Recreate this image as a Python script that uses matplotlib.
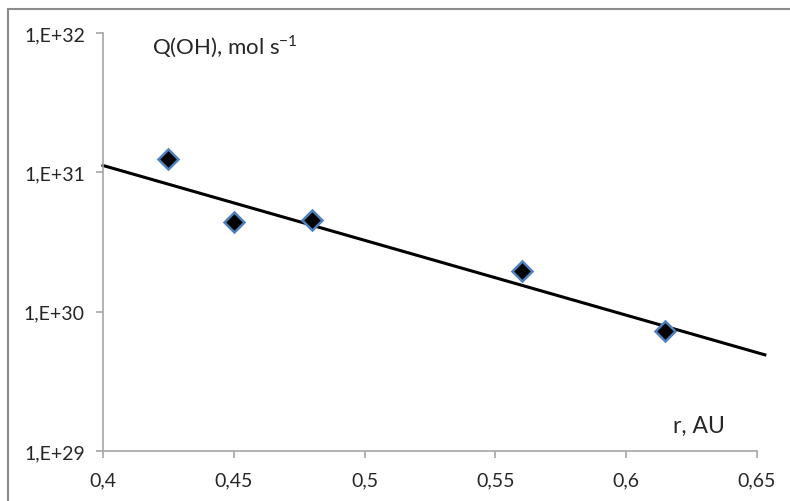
import numpy as np
import matplotlib
matplotlib.use('Agg')
import matplotlib.pyplot as plt
from matplotlib.ticker import FixedLocator, FuncFormatter, NullLocator
from matplotlib.lines import Line2D

# observed points
r_au = [0.425, 0.45, 0.48, 0.56, 0.615]
q_oh = [1.24e31, 4.43e30, 4.58e30, 1.97e30, 7.3e29]

# trend line end points
trend_r = [0.4, 0.653]
trend_q = [1.12e31, 4.9e29]

x_ticks = [0.4, 0.45, 0.5, 0.55, 0.6, 0.65]
y_ticks = [1e29, 1e30, 1e31, 1e32]

plt.rcParams['font.family'] = ['Lato', 'DejaVu Sans']

fig = plt.figure(figsize=(7.9, 5.02), dpi=100)
ax = fig.add_axes([103 / 790, 50 / 502, 654 / 790, 418 / 502])

ax.plot(trend_r, trend_q, color='black', linewidth=2.2, clip_on=False, zorder=2)
ax.plot(r_au, q_oh, linestyle='none', marker='D', markersize=10.5,
        markerfacecolor='black', markeredgecolor='#4f81bd', markeredgewidth=1.8, zorder=3)

ax.set_yscale('log')
ax.set_xlim(0.4, 0.65)
ax.set_ylim(1e29, 1e32)
ax.xaxis.set_major_locator(FixedLocator(x_ticks))
ax.yaxis.set_major_locator(FixedLocator(y_ticks))
ax.yaxis.set_minor_locator(NullLocator())
ax.xaxis.set_major_formatter(FuncFormatter(lambda v, p: ('%g' % v).replace('.', ',')))
ax.yaxis.set_major_formatter(FuncFormatter(lambda v, p: '1,E+%d' % round(np.log10(v))))

for s in ['top', 'right']:
    ax.spines[s].set_visible(False)
for s in ['left', 'bottom']:
    ax.spines[s].set_color('#a6a6a6')
    ax.spines[s].set_linewidth(1.2)
ax.tick_params(axis='both', direction='out', length=5, width=1.2, color='#a6a6a6',
               labelsize=14, labelcolor='#262626')
ax.tick_params(axis='y', pad=8)
ax.tick_params(axis='x', pad=10)

ax.text(152 / 790, 1 - 47 / 502, 'Q(OH), mol s$^{\\mathregular{-1}}$', transform=fig.transFigure,
        fontsize=16, color='#262626', ha='left', va='center')
ax.text(673 / 790, 1 - 426 / 502, 'r, AU', transform=fig.transFigure,
        fontsize=16.5, color='#262626', ha='left', va='center')

# outer chart frame (cropped on the right and bottom)
fig.add_artist(Line2D([8 / 790, 8 / 790], [0, 1 - 10 / 502], transform=fig.transFigure,
                      color='#8c8c8c', linewidth=1.5))
fig.add_artist(Line2D([8 / 790, 1], [1 - 10 / 502, 1 - 10 / 502], transform=fig.transFigure,
                      color='#8c8c8c', linewidth=1.5))

fig.savefig('out.png', dpi=100)
